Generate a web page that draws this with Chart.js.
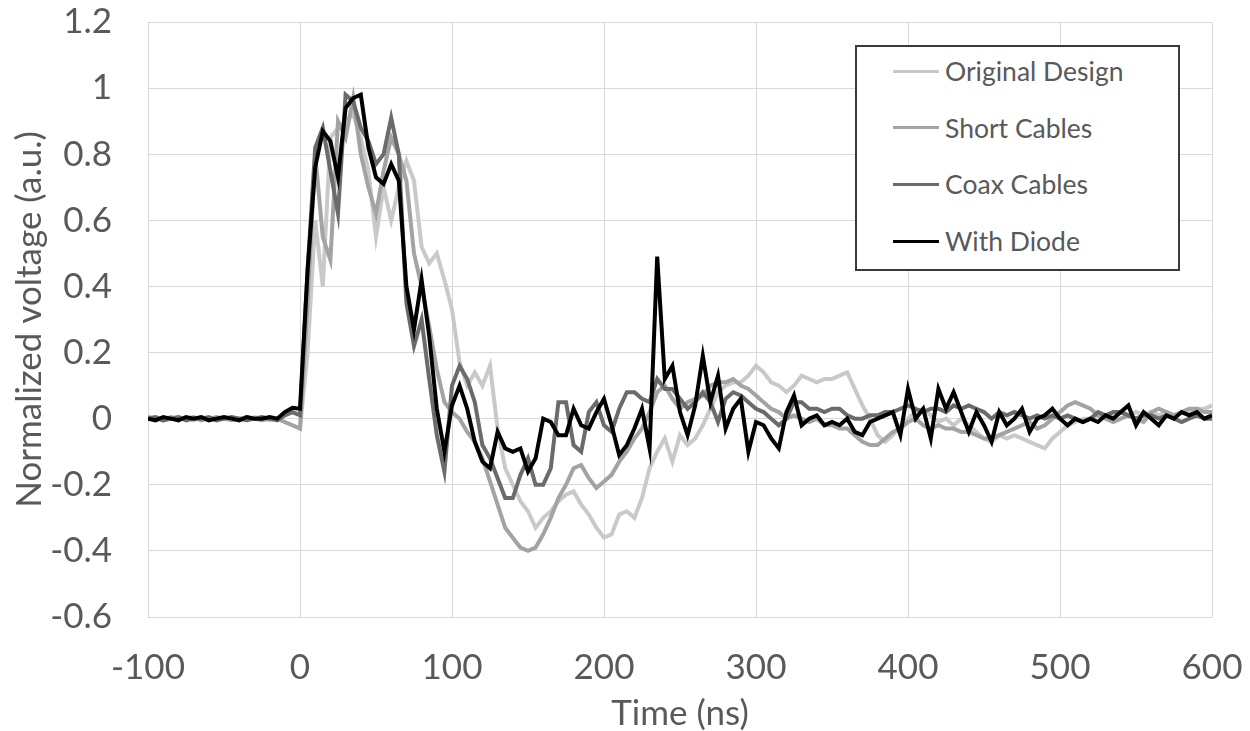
<!DOCTYPE html>
<html>
<head>
<meta charset="utf-8">
<script src="https://cdn.jsdelivr.net/npm/chart.js@4"></script>
<style>
  body { margin: 0; background: #fff; }
  #wrap { position: relative; width: 1250px; height: 731px; }
  #legendBox {
    position: absolute; left: 855px; top: 45px; width: 321px; height: 222px;
    border: 2px solid #3a3a3a; background: #fff;
    font-family: Lato, 'Open Sans', sans-serif; font-size: 26.5px; color: #595959;
  }
  .row { position: absolute; left: 36px; height: 30px; display: flex; align-items: center; }
  .swatch { width: 46px; height: 3px; margin-right: 6px; }
</style>
</head>
<body>
<div id="wrap">
  <canvas id="chart" width="1250" height="731"></canvas>
  <div id="legendBox"></div>
</div>
<script>
// time axis (ns), one sample every 5 ns
const timeNs = [];
for (let t = -100; t <= 600; t += 5) timeNs.push(t);

const seriesNames = ['Original Design', 'Short Cables', 'Coax Cables', 'With Diode'];
const seriesColors = ['#c9c9c9', '#a3a3a3', '#6b6b6b', '#000000'];

const xTickLabels = ['-100', '0', '100', '200', '300', '400', '500', '600'];
const yTickLabels = ['-0.6', '-0.4', '-0.2', '0', '0.2', '0.4', '0.6', '0.8', '1', '1.2'];

const originalDesign = [
  0.0, 0.005, -0.005, 0.0, 0.005, 0.0, -0.005, 0.005, 0.0, -0.005, 0.0, 0.005, 0.0, -0.005, 0.005, 0.0, -0.005, 0.0, -0.01, -0.02,
  -0.03, 0.20, 0.60, 0.40, 0.85, 0.88, 0.90, 0.92, 0.85, 0.75, 0.55, 0.70, 0.60, 0.70, 0.78, 0.72, 0.52, 0.47, 0.50, 0.42,
  0.33, 0.17, 0.10, 0.14, 0.10, 0.16, -0.03, -0.15, -0.20, -0.25, -0.28, -0.33, -0.30, -0.28, -0.25, -0.23, -0.22, -0.26, -0.29, -0.33,
  -0.36, -0.35, -0.29, -0.28, -0.30, -0.24, -0.15, -0.10, -0.06, -0.13, -0.05, -0.08, -0.06, -0.02, 0.03, 0.08, 0.10, 0.11, 0.11, 0.13,
  0.16, 0.14, 0.11, 0.10, 0.08, 0.10, 0.13, 0.12, 0.11, 0.12, 0.12, 0.13, 0.14, 0.09, 0.04, 0.0, -0.05, -0.07, -0.05, -0.02,
  0.0, 0.02, 0.03, 0.01, -0.01, 0.0, -0.02, 0.0, -0.02, -0.04, -0.06, -0.07, -0.05, -0.06, -0.05, -0.06, -0.07, -0.08, -0.09, -0.06,
  -0.04, -0.02, -0.01, 0.0, 0.0, 0.01, 0.0, 0.01, 0.02, 0.01, 0.02, 0.01, 0.02, 0.01, 0.02, 0.01, 0.02, 0.02, 0.03, 0.03,
  0.04
];

const shortCables = [
  0.005, 0.0, -0.005, 0.005, 0.0, 0.0, 0.005, -0.005, 0.0, 0.005, 0.0, -0.005, 0.0, 0.005, 0.0, -0.005, 0.0, 0.0, -0.01, -0.02,
  -0.03, 0.35, 0.80, 0.55, 0.48, 0.90, 0.85, 0.97, 0.80, 0.70, 0.62, 0.75, 0.85, 0.80, 0.72, 0.50, 0.40, 0.28, 0.15, 0.05,
  0.02, 0.0, -0.04, -0.07, -0.12, -0.19, -0.26, -0.33, -0.36, -0.39, -0.40, -0.39, -0.35, -0.30, -0.24, -0.20, -0.15, -0.14, -0.18, -0.21,
  -0.19, -0.17, -0.13, -0.10, -0.06, -0.03, 0.02, 0.08, 0.10, 0.06, 0.03, 0.05, 0.06, 0.07, 0.10, 0.11, 0.11, 0.12, 0.10, 0.09,
  0.07, 0.05, 0.03, 0.02, 0.0, 0.01, 0.0, -0.01, 0.0, -0.02, -0.02, -0.03, -0.03, -0.05, -0.07, -0.08, -0.08, -0.06, -0.04, -0.03,
  -0.01, 0.0, -0.02, -0.03, -0.02, -0.03, -0.03, -0.04, -0.04, -0.05, -0.06, -0.06, -0.05, -0.04, -0.03, -0.02, -0.01, -0.03, -0.02, 0.0,
  0.02, 0.04, 0.05, 0.04, 0.03, 0.01, 0.0, -0.01, 0.0, 0.01, 0.0, -0.01, 0.02, 0.03, 0.02, 0.01, 0.02, 0.03, 0.03, 0.02,
  0.02
];

const coaxCables = [
  0.0, 0.005, -0.005, 0.0, 0.005, -0.005, 0.0, 0.0, 0.005, -0.005, 0.0, 0.005, 0.0, -0.005, 0.0, 0.005, 0.0, -0.005, 0.01, 0.02,
  0.01, 0.45, 0.82, 0.88, 0.75, 0.62, 0.98, 0.96, 0.88, 0.84, 0.77, 0.80, 0.91, 0.80, 0.35, 0.22, 0.30, 0.12, -0.05, -0.16,
  0.10, 0.16, 0.12, 0.05, -0.08, -0.12, -0.18, -0.24, -0.24, -0.17, -0.12, -0.20, -0.20, -0.15, 0.05, 0.05, -0.08, -0.10, 0.02, 0.05,
  -0.02, -0.04, 0.03, 0.08, 0.08, 0.06, 0.05, 0.12, 0.09, 0.09, 0.06, 0.03, 0.05, 0.08, 0.05, -0.01, 0.06, 0.08, 0.07, 0.05,
  0.03, 0.02, 0.0, -0.02, 0.0, 0.05, 0.05, 0.03, 0.03, 0.02, 0.03, 0.03, 0.01, 0.0, 0.0, 0.01, 0.01, 0.02, 0.02, 0.03,
  0.04, 0.03, 0.02, 0.03, 0.03, 0.02, 0.04, 0.03, 0.04, 0.03, 0.02, 0.0, 0.02, 0.01, 0.02, 0.01, 0.0, 0.01, 0.0, 0.01,
  0.0, 0.01, 0.0, -0.01, 0.0, 0.02, 0.01, 0.02, 0.02, 0.01, 0.0, 0.01, 0.01, 0.0, 0.01, 0.0, -0.01, 0.0, 0.01, 0.0,
  0.0
];

const withDiode = [
  0.0, -0.005, 0.005, 0.0, -0.005, 0.005, 0.0, 0.005, -0.005, 0.0, 0.005, 0.0, -0.005, 0.005, 0.0, 0.0, 0.005, 0.0, 0.02, 0.033,
  0.03, 0.45, 0.76, 0.87, 0.84, 0.73, 0.94, 0.97, 0.98, 0.82, 0.73, 0.71, 0.77, 0.72, 0.40, 0.27, 0.42, 0.25, 0.03, -0.10,
  0.04, 0.10, 0.03, -0.07, -0.13, -0.15, -0.04, -0.09, -0.10, -0.09, -0.16, -0.12, 0.0, -0.01, -0.05, -0.05, 0.03, -0.02, -0.03, 0.02,
  0.06, -0.02, -0.11, -0.08, -0.03, 0.03, -0.09, 0.49, 0.12, 0.16, 0.02, -0.05, 0.04, 0.19, 0.05, 0.13, -0.03, 0.03, 0.06, -0.10,
  -0.01, -0.02, -0.06, -0.09, 0.02, 0.07, -0.02, 0.0, 0.01, -0.02, -0.01, -0.02, 0.0, -0.04, -0.05, -0.01, 0.0, 0.01, 0.02, -0.05,
  0.09, 0.0, 0.03, -0.06, 0.09, 0.03, 0.08, 0.02, -0.04, 0.02, -0.02, -0.07, 0.02, -0.02, 0.0, 0.03, -0.04, 0.0, 0.01, 0.03,
  0.0, -0.02, 0.0, -0.01, 0.0, -0.01, 0.01, 0.0, 0.02, 0.04, -0.02, 0.02, 0.0, -0.02, 0.01, 0.0, 0.02, 0.01, 0.02, 0.0,
  0.01
];

const seriesValues = [originalDesign, shortCables, coaxCables, withDiode];

const textColor = '#595959';
const gridColor = '#d9d9d9';
const fontFamily = "Lato, 'Open Sans', sans-serif";

function buildLegend() {
  const box = document.getElementById('legendBox');
  seriesNames.forEach((name, i) => {
    const row = document.createElement('div');
    row.className = 'row';
    row.style.top = (9 + i * 56.7) + 'px';
    row.innerHTML = `<span class="swatch" style="background:${seriesColors[i]}"></span><span>${name}</span>`;
    box.appendChild(row);
  });
}

// stop tick labels from pushing the plot area in; layout padding sets it instead
function noScalePadding(s) {
  s.paddingTop = 0;
  s.paddingBottom = 0;
  s.paddingLeft = 0;
  s.paddingRight = 0;
}

function renderChart() {
  const ctx = document.getElementById('chart').getContext('2d');
  const datasets = seriesNames.map((name, i) => ({
    label: name,
    data: timeNs.map((t, k) => ({ x: t, y: seriesValues[i][k] })),
    borderColor: seriesColors[i],
    borderWidth: 4,
    pointRadius: 0,
    tension: 0,
    fill: false,
    order: 4 - i // diode on top
  }));

  new Chart(ctx, {
    type: 'line',
    data: { datasets },
    options: {
      responsive: false,
      animation: false,
      layout: { padding: { top: 22, right: 38, bottom: 0, left: 0 } },
      plugins: { legend: { display: false }, tooltip: { enabled: false } },
      scales: {
        x: {
          type: 'linear', min: -100, max: 600,
          afterFit: (s) => { s.height = 114; noScalePadding(s); },
          grid: { color: gridColor, drawTicks: false },
          border: { color: gridColor },
          ticks: {
            stepSize: 100, padding: 30, color: textColor,
            font: { family: fontFamily, size: 35 },
            callback: (v) => xTickLabels[Math.round((v + 100) / 100)]
          },
          title: {
            display: true, text: 'Time (ns)', color: textColor,
            font: { family: fontFamily, size: 35, lineHeight: 1 }, padding: { top: 0, bottom: 0 }
          }
        },
        y: {
          min: -0.6, max: 1.2,
          afterFit: (s) => { s.width = 148; noScalePadding(s); },
          grid: { color: gridColor, drawTicks: false },
          border: { color: gridColor },
          ticks: {
            stepSize: 0.2, padding: 36, color: textColor,
            font: { family: fontFamily, size: 35 },
            callback: (v) => yTickLabels[Math.round((v + 0.6) / 0.2)]
          },
          title: {
            display: true, text: 'Normalized voltage (a.u.)', color: textColor,
            font: { family: fontFamily, size: 35, lineHeight: 1 }, padding: { top: 12, bottom: 0 }
          }
        }
      }
    }
  });
}

buildLegend();
renderChart();
</script>
</body>
</html>
